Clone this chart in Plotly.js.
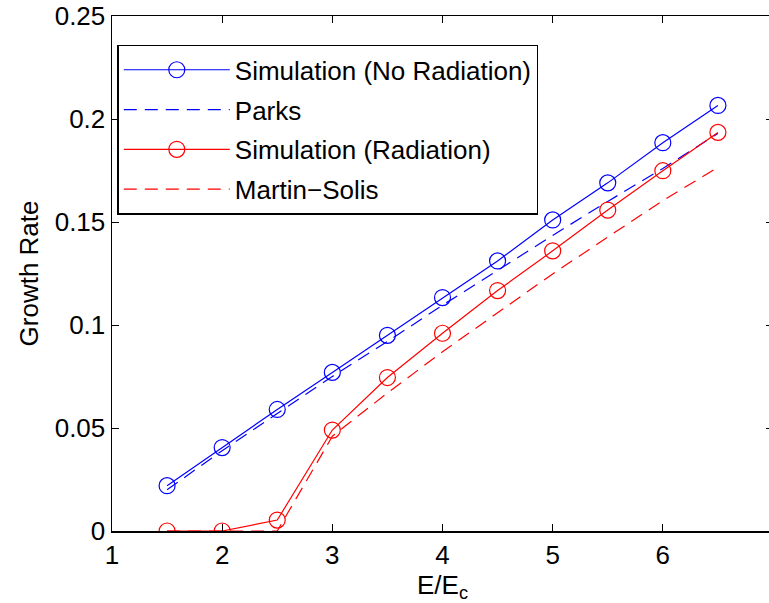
<!DOCTYPE html>
<html>
<head>
<meta charset="utf-8">
<script src="https://cdn.plot.ly/plotly-3.0.1.min.js"></script>
<style>
html,body{margin:0;padding:0;overflow:hidden;background:#fff;}
#chart{width:773px;height:603px;}
</style>
</head>
<body>
<div id="chart"></div>
<script>
const xSim = [1.5, 2, 2.5, 3, 3.5, 4, 4.5, 5, 5.5, 6, 6.5];
const simNoRad = [0.022, 0.0405, 0.059, 0.077, 0.095, 0.1133, 0.1311, 0.151, 0.169, 0.1885, 0.2066];
const parks = [0.020, 0.039, 0.057, 0.075, 0.092, 0.1096, 0.1265, 0.1435, 0.160, 0.176, 0.193];
const simRad = [0, 0, 0.0053, 0.049, 0.0745, 0.096, 0.1167, 0.136, 0.1558, 0.1749, 0.1935];
const martinSolis = [0, 0, 0, 0.046, 0.067, 0.087, 0.106, 0.1248, 0.1427, 0.1604, 0.1765];
const names = ["Simulation (No Radiation)", "Parks", "Simulation (Radiation)", "Martin\u2212Solis"];
const xTicks = [1, 2, 3, 4, 5, 6, 7];
const yTicks = [0, 0.05, 0.1, 0.15, 0.2, 0.25];
const yTickText = ["0", "0.05", "0.1", "0.15", "0.2", "0.25"];

const fontFam = "Liberation Sans, Arial, sans-serif";
const FS = 26;
const mk = {symbol: "circle-open", size: 16, line: {width: 1.2}};
const dashPat = "13px,8px";
const traces = [
  {x: xSim, y: simNoRad, name: names[0], mode: "lines+markers", legendgroup: "a",
   line: {color: "#0000ff", width: 1.2}, marker: Object.assign({color: "#0000ff"}, mk)},
  {x: xSim, y: parks, name: names[1], mode: "lines", legendgroup: "b",
   line: {color: "#0000ff", width: 1.2, dash: dashPat}},
  {x: xSim, y: simRad, name: names[2], mode: "lines+markers", legendgroup: "c",
   line: {color: "#ff0000", width: 1.2}, marker: Object.assign({color: "#ff0000"}, mk)},
  {x: xSim, y: martinSolis, name: names[3], mode: "lines", legendgroup: "d",
   line: {color: "#ff0000", width: 1.2, dash: dashPat}}
];

const layout = {
  width: 773, height: 603,
  margin: {l: 112, r: 0, t: 16, b: 72},
  paper_bgcolor: "#fff", plot_bgcolor: "#fff",
  font: {family: fontFam, size: FS, color: "#000"},
  showlegend: true,
  legend: {x: 0.008, y: 0.944, xanchor: "left", yanchor: "top",
    bordercolor: "#000", borderwidth: 1.5, bgcolor: "#fff",
    font: {family: fontFam, size: FS}, tracegroupgap: 3,
    itemwidth: 106, traceorder: "grouped"},
  xaxis: {range: [1, 7], tickvals: xTicks, ticktext: xTicks.map(String),
    showline: true, linecolor: "#000", linewidth: 1.5, mirror: "ticks",
    ticks: "inside", ticklen: 7, tickcolor: "#000", showgrid: false, zeroline: false,
    tickfont: {size: FS}, title: {text: "E/E<sub>c</sub>", font: {size: FS}, standoff: 2}},
  yaxis: {range: [0, 0.25], tickvals: yTicks, ticktext: yTickText,
    showline: true, linecolor: "#000", linewidth: 1.5, mirror: "ticks",
    ticks: "inside", ticklen: 7, tickcolor: "#000", showgrid: false, zeroline: false,
    tickfont: {size: FS}, title: {text: "Growth Rate", font: {size: FS}, standoff: 8}}
};
Plotly.newPlot("chart", traces, layout, {displayModeBar: false, staticPlot: true});
</script>
</body>
</html>
